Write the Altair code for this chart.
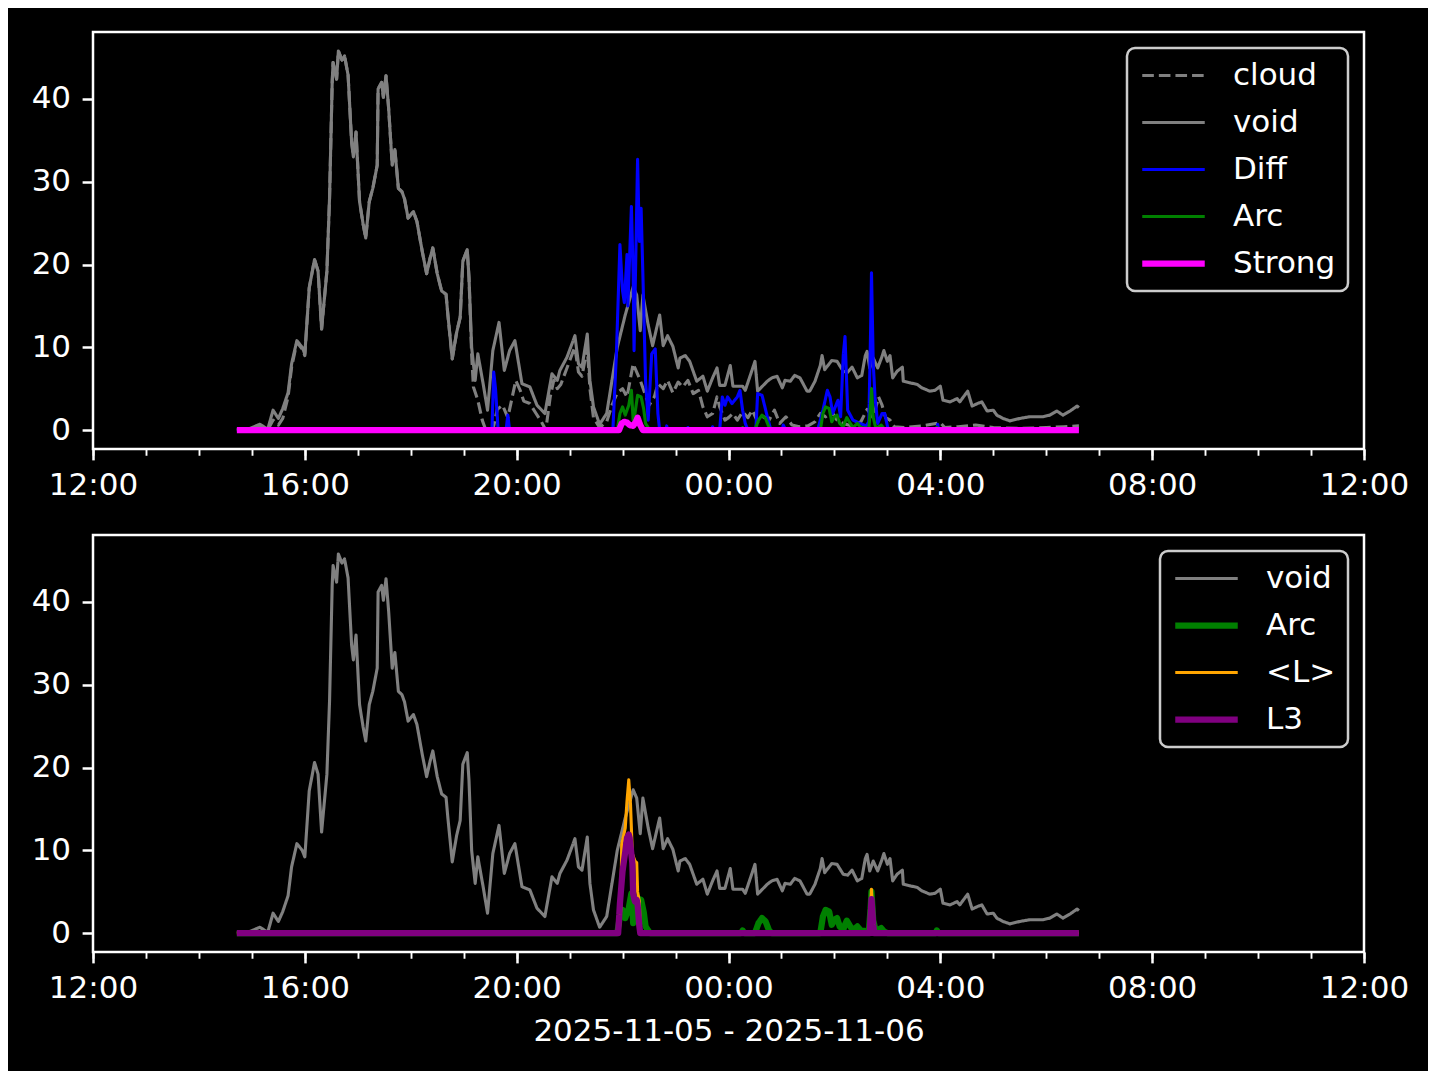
import altair as alt
import pandas as pd

# ---------------- data (clock times, 2025-11-05 12:00 -> 2025-11-06 12:00) ----------------
VOID_T = ["14:43", "14:58", "15:09", "15:18", "15:24", "15:30", "15:35", "15:41", "15:45", "15:51",
          "15:57", "16:00", "16:05", "16:11", "16:15", "16:19", "16:25", "16:28", "16:31", "16:32",
          "16:36", "16:38", "16:42", "16:45", "16:49", "16:53", "16:55", "16:58", "17:02", "17:06",
          "17:09", "17:13", "17:17", "17:22", "17:23", "17:27", "17:29", "17:32", "17:35", "17:39",
          "17:42", "17:46", "17:50", "17:53", "17:57", "18:03", "18:07", "18:13", "18:18", "18:22",
          "18:25", "18:30", "18:35", "18:40", "18:42", "18:47", "18:52", "18:56", "18:59", "19:04",
          "19:06", "19:09", "19:13", "19:16", "19:22", "19:27", "19:33", "19:40", "19:46", "19:52",
          "19:58", "20:06", "20:15", "20:23", "20:32", "20:40", "20:46", "20:49", "20:57", "21:04",
          "21:06", "21:10", "21:14", "21:20", "21:23", "21:27", "21:34", "21:42", "21:48", "21:54",
          "22:03", "22:12", "22:16", "22:20", "22:23", "22:29", "22:34", "22:42", "22:46", "22:51",
          "22:57", "23:03", "23:05", "23:11", "23:16", "23:24", "23:31", "23:36", "23:42", "23:47",
          "23:50", "23:56", "00:02", "00:05", "00:16", "00:19", "00:30", "00:33", "00:44", "00:49",
          "00:55", "01:01", "01:04", "01:10", "01:15", "01:21", "01:29", "01:32", "01:38", "01:44",
          "01:46", "01:49", "01:57", "02:03", "02:10", "02:15", "02:20", "02:26", "02:31", "02:35",
          "02:37", "02:40", "02:44", "02:49", "02:54", "02:56", "03:00", "03:03", "03:06", "03:11",
          "03:17", "03:18", "03:26", "03:34", "03:39", "03:48", "03:54", "04:00", "04:03", "04:11",
          "04:19", "04:22", "04:31", "04:36", "04:42", "04:47", "04:53", "05:00", "05:04", "05:11",
          "05:19", "05:30", "05:41", "05:56", "06:04", "06:12", "06:19", "06:27", "06:35", "06:37"]
VOID_V = [0.0, 0.2, 0.7, 0.1, 2.4, 1.4, 2.6, 4.5, 8.0, 10.8,
          10.0, 9.2, 17.2, 20.6, 19.2, 12.2, 19.2, 28.0, 42.0, 44.4,
          42.4, 45.8, 44.7, 45.2, 42.9, 34.8, 33.0, 36.0, 27.6, 24.9,
          23.2, 27.6, 29.2, 32.0, 41.2, 42.0, 40.2, 42.8, 38.8, 32.0,
          33.9, 29.2, 28.8, 27.9, 25.6, 26.4, 25.2, 21.6, 18.9, 20.8,
          22.0, 18.9, 16.8, 16.4, 14.0, 8.6, 11.8, 13.6, 20.4, 21.8,
          18.4, 10.0, 6.0, 9.2, 5.6, 2.4, 9.6, 13.0, 7.2, 9.6,
          10.8, 5.6, 5.2, 3.0, 2.0, 6.8, 6.0, 7.2, 8.8, 10.8,
          11.4, 8.0, 7.6, 11.6, 6.0, 2.8, 0.7, 2.0, 6.0, 10.0,
          13.9, 17.3, 16.3, 12.0, 16.3, 12.7, 10.2, 13.9, 10.2, 11.4,
          10.1, 7.5, 8.7, 9.0, 8.3, 5.9, 6.5, 4.7, 6.3, 7.5,
          5.4, 5.4, 7.8, 5.3, 5.3, 4.8, 8.3, 4.7, 5.9, 6.3,
          6.5, 5.1, 6.0, 5.9, 6.6, 6.3, 4.7, 4.7, 5.9, 7.8,
          9.0, 7.3, 8.4, 8.3, 7.1, 7.0, 7.6, 6.3, 6.6, 9.0,
          9.5, 7.5, 8.7, 7.5, 8.9, 9.6, 8.3, 9.0, 6.3, 7.1,
          7.6, 5.9, 5.7, 5.5, 5.1, 4.7, 4.8, 5.3, 3.6, 3.4,
          3.8, 3.4, 4.7, 2.9, 3.2, 3.4, 2.3, 2.4, 1.8, 1.4,
          1.1, 1.4, 1.6, 1.6, 1.8, 2.3, 1.8, 2.3, 2.9, 2.7]

CLOUD_T = ["14:43", "14:58", "15:09", "15:18", "15:24", "15:30", "15:35", "15:41", "15:45", "15:51",
           "15:57", "16:00", "16:05", "16:11", "16:15", "16:19", "16:25", "16:28", "16:31", "16:32",
           "16:36", "16:38", "16:42", "16:45", "16:49", "16:53", "16:55", "16:58", "17:02", "17:06",
           "17:09", "17:13", "17:17", "17:22", "17:23", "17:27", "17:29", "17:32", "17:35", "17:39",
           "17:42", "17:46", "17:50", "17:53", "17:57", "18:03", "18:07", "18:13", "18:18", "18:22",
           "18:25", "18:30", "18:35", "18:40", "18:42", "18:47", "18:52", "18:56", "18:59", "19:04",
           "19:06", "19:09", "19:11", "19:16", "19:21", "19:25", "19:33", "19:38", "19:44", "19:50",
           "19:55", "19:59", "20:04", "20:08", "20:15", "20:22", "20:28", "20:33", "20:38", "20:42",
           "20:46", "20:50", "20:57", "21:04", "21:06", "21:10", "21:14", "21:20", "21:23", "21:27",
           "21:34", "21:42", "21:48", "21:54", "22:00", "22:05", "22:12", "22:20", "22:30", "22:36",
           "22:40", "22:46", "22:51", "22:57", "23:03", "23:08", "23:14", "23:20", "23:26", "23:31",
           "23:36", "23:42", "23:47", "23:50", "23:56", "00:00", "00:05", "00:10", "00:16", "00:22",
           "00:27", "00:33", "00:40", "00:46", "00:52", "00:58", "01:05", "01:12", "01:20", "01:30",
           "01:38", "01:44", "01:50", "01:57", "02:03", "02:10", "02:20", "02:30", "02:37", "02:44",
           "02:50", "02:54", "02:58", "03:03", "03:08", "03:20", "03:40", "04:00", "04:05", "04:20",
           "04:40", "05:00", "05:30", "06:00", "06:20", "06:37"]
CLOUD_V = [0.0, 0.1, 0.4, 0.0, 1.2, 0.6, 1.4, 4.0, 7.6, 10.6,
           9.8, 9.0, 17.2, 20.6, 19.2, 12.2, 19.2, 28.0, 42.0, 44.4,
           42.4, 45.8, 44.7, 45.2, 42.9, 34.8, 33.0, 36.0, 27.6, 24.9,
           23.2, 27.6, 29.2, 32.0, 41.2, 42.0, 40.2, 42.8, 38.8, 32.0,
           33.9, 29.2, 28.8, 27.9, 25.6, 26.4, 25.2, 21.6, 18.9, 20.8,
           22.0, 18.9, 16.8, 16.4, 14.0, 8.6, 11.8, 13.6, 20.4, 21.8,
           18.4, 9.0, 5.2, 3.6, 1.2, 0.0, 0.0, 2.5, 3.0, 1.5,
           4.0, 6.0, 4.8, 3.5, 3.2, 2.0, 1.0, 0.0, 4.0, 6.0,
           5.0, 5.5, 7.5, 9.5, 10.0, 7.0, 6.5, 10.0, 5.0, 1.5,
           0.3, 1.0, 3.0, 4.5, 5.0, 4.0, 8.0, 6.0, 3.0, 4.0,
           5.6, 5.0, 6.0, 4.5, 5.8, 5.2, 6.0, 4.4, 4.8, 2.8,
           1.6, 2.0, 4.0, 2.8, 1.2, 1.5, 2.0, 1.2, 2.2, 1.5,
           2.4, 1.0, 1.6, 1.2, 2.4, 0.8, 1.6, 0.6, 0.4, 0.5,
           1.0, 2.0, 1.6, 2.2, 1.2, 0.8, 0.5, 1.0, 2.5, 1.5,
           4.0, 3.0, 1.5, 1.2, 0.4, 0.3, 0.5, 0.9, 0.3, 0.4,
           0.6, 0.3, 0.2, 0.3, 0.4, 0.5]

DIFF_T = ["14:43", "19:32", "19:34", "19:36", "19:39", "19:48", "19:50", "19:52", "21:49", "21:53",
          "21:57", "22:00", "22:02", "22:05", "22:06", "22:10", "22:12", "22:13", "22:17", "22:19",
          "22:21", "22:23", "22:26", "22:29", "22:33", "22:37", "22:40", "22:42", "22:49", "22:50",
          "22:51", "23:13", "23:14", "23:15", "23:41", "23:42", "23:43", "23:50", "23:53", "23:56",
          "23:59", "00:04", "00:10", "00:13", "00:16", "00:19", "00:22", "00:31", "00:33", "00:38",
          "00:44", "00:48", "01:01", "01:02", "01:05", "01:41", "01:47", "01:52", "01:55", "01:58",
          "02:04", "02:07", "02:10", "02:12", "02:15", "02:21", "02:29", "02:36", "02:39", "02:41",
          "02:42", "02:44", "02:46", "02:49", "02:54", "02:57", "03:01", "03:56", "03:57", "03:58",
          "06:37"]
DIFF_V = [0.0, 0.0, 7.0, 5.0, 0.0, 0.0, 1.8, 0.0, 0.0, 9.2,
          22.4, 16.8, 15.4, 21.2, 15.0, 27.0, 18.8, 9.6, 32.7, 22.8,
          26.8, 18.8, 6.0, 1.2, 9.2, 9.8, 2.0, 0.0, 0.0, 0.5,
          0.0, 0.0, 0.3, 0.0, 0.0, 0.4, 0.0, 0.0, 4.0, 3.0,
          4.0, 3.2, 4.0, 4.8, 2.4, 0.8, 0.0, 0.0, 4.4, 4.2,
          1.6, 0.0, 0.0, 0.6, 0.0, 0.0, 2.4, 4.8, 4.0, 2.0,
          3.6, 1.6, 9.0, 11.3, 2.4, 1.2, 0.8, 0.5, 1.0, 12.0,
          19.0, 8.0, 4.0, 0.8, 2.0, 2.0, 0.0, 0.0, 0.7, 0.0,
          0.0]

ARC_T = ["14:43", "21:54", "21:57", "22:00", "22:03", "22:07", "22:10", "22:12", "22:14", "22:17",
         "22:21", "22:24", "22:26", "22:29", "22:31", "00:14", "00:16", "00:18", "00:30", "00:34",
         "00:38", "00:42", "00:46", "00:49", "01:44", "01:47", "01:50", "01:54", "01:57", "02:00",
         "02:03", "02:06", "02:10", "02:12", "02:14", "02:18", "02:21", "02:26", "02:30", "02:39",
         "02:41", "02:42", "02:44", "02:47", "02:53", "02:56", "03:00", "03:55", "03:56", "03:58",
         "06:37"]
ARC_V = [0.0, 0.0, 2.0, 2.8, 1.8, 3.0, 4.8, 1.2, 2.0, 4.2,
         4.0, 2.5, 0.8, 0.3, 0.0, 0.0, 0.3, 0.0, 0.0, 1.2,
         1.8, 1.4, 0.3, 0.0, 0.0, 2.0, 2.8, 2.6, 1.0, 1.6,
         1.8, 0.8, 0.4, 1.0, 1.5, 0.8, 0.3, 0.8, 0.3, 0.2,
         3.0, 5.0, 1.5, 0.2, 0.6, 0.2, 0.0, 0.0, 0.3, 0.0,
         0.0]

STRONG_T = ["14:43", "21:56", "21:59", "22:02", "22:05", "22:08", "22:12", "22:15", "22:17", "22:20",
            "22:23", "06:37"]
STRONG_V = [0.0, 0.0, 0.8, 1.0, 0.9, 0.6, 0.5, 1.0, 1.5, 0.6,
            0.0, 0.0]

L_T = ["14:43", "21:56", "21:58", "21:59", "22:03", "22:05", "22:07", "22:09", "22:11", "22:14",
       "22:16", "22:17", "22:19", "22:20", "22:22", "02:39", "02:41", "02:42", "02:44", "02:46",
       "06:37"]
L_V = [0.0, 0.0, 3.0, 10.7, 12.7, 15.9, 18.5, 15.5, 9.6, 8.7,
       8.5, 5.0, 3.8, 0.5, 0.0, 0.0, 3.0, 5.3, 1.0, 0.0,
       0.0]

L3_T = ["14:43", "21:55", "21:57", "22:00", "22:03", "22:05", "22:07", "22:08", "22:11", "22:12",
        "22:14", "22:16", "22:17", "22:19", "22:20", "02:40", "02:41", "02:42", "02:44", "02:45",
        "06:37"]
L3_V = [0.0, 0.0, 3.6, 7.5, 9.8, 11.5, 11.9, 11.5, 8.5, 4.7,
        3.8, 4.0, 3.5, 0.8, 0.0, 0.0, 2.0, 4.1, 1.0, 0.0,
        0.0]

TOP_NAMES = ["cloud", "void", "Diff", "Arc", "Strong"]
TOP_COLORS = ["#808080", "#808080", "#0000ff", "#008000", "#ff00ff"]
TOP_WIDTHS = [3.1, 3.1, 3.1, 3.1, 6.25]
TOP_DASHES = [[11.6, 5.0], [1, 0], [1, 0], [1, 0], [1, 0]]

BOT_NAMES = ["void", "Arc", "<L>", "L3"]
BOT_COLORS = ["#808080", "#008000", "#ffa500", "#800080"]
BOT_WIDTHS = [3.1, 6.25, 3.1, 6.25]
BOT_DASHES = [[1, 0], [1, 0], [1, 0], [1, 0]]

X_TITLE = "2025-11-05 - 2025-11-06"
FONT = "DejaVu Sans"


def to_dt(hhmm):
    h, m = (int(p) for p in hhmm.split(":"))
    day = 5 if h >= 12 else 6
    return pd.Timestamp(2025, 11, day, h, m)


def frame(series):
    rows = []
    for name, ts, vs in series:
        for t, v in zip(ts, vs):
            rows.append({"series": name, "time": to_dt(t), "value": v})
    return pd.DataFrame(rows)


top_df = frame([("cloud", CLOUD_T, CLOUD_V), ("void", VOID_T, VOID_V), ("Diff", DIFF_T, DIFF_V),
                ("Arc", ARC_T, ARC_V), ("Strong", STRONG_T, STRONG_V)])
bot_df = frame([("void", VOID_T, VOID_V), ("Arc", ARC_T, ARC_V), ("<L>", L_T, L_V), ("L3", L3_T, L3_V)])


def dt(day, hour):
    return alt.DateTime(year=2025, month=11, date=day, hours=hour, minutes=0)


X_DOMAIN = [dt(5, 12), dt(6, 12)]
MAJOR = [dt(5, 12), dt(5, 16), dt(5, 20), dt(6, 0), dt(6, 4), dt(6, 8), dt(6, 12)]
MINOR = [dt(5, h) for h in range(12, 24)] + [dt(6, h) for h in range(0, 13)]
Y_DOMAIN = [-2.29, 48.09]


def panel(df, names, colors, widths, dashes, title):
    legend = alt.Legend(title=None, orient="top-right", offset=16, symbolType="stroke",
                        symbolSize=3906, labelFontSize=31, labelFont=FONT, labelColor="white",
                        labelOffset=25, padding=12, rowPadding=15, clipHeight=31,
                        strokeColor="#cccccc", fillColor="black", cornerRadius=8, labelLimit=400)
    color = alt.Color("series:N", scale=alt.Scale(domain=names, range=colors), legend=legend)
    sdash = alt.StrokeDash("series:N", scale=alt.Scale(domain=names, range=dashes), legend=legend)
    swidth = alt.StrokeWidth("series:N", scale=alt.Scale(type="ordinal", domain=names, range=widths),
                             legend=legend)
    xscale = alt.Scale(domain=X_DOMAIN, nice=False)
    yscale = alt.Scale(domain=Y_DOMAIN, nice=False, zero=False)
    yaxis = alt.Axis(values=[0, 10, 20, 30, 40], tickSize=10.9, tickWidth=2.5,
                     labelPadding=11.5, title=None)
    layers = []
    for i, name in enumerate(names):
        if i == 0:
            xaxis = alt.Axis(values=MAJOR, format="%H:%M", orient="bottom", tickSize=10.9,
                             tickWidth=2.5, labelPadding=10.9, labelFlush=False,
                             labelOverlap=False, title=title if title else None,
                             titlePadding=13)
        elif i == 1:
            xaxis = alt.Axis(values=MINOR, labels=False, orient="bottom", tickSize=6.25,
                             tickWidth=1.9, title=None)
        else:
            xaxis = None
        layer = alt.Chart(df).transform_filter(alt.datum.series == name).mark_line(
            strokeJoin="round", strokeCap="butt"
        ).encode(
            x=alt.X("time:T", scale=xscale, axis=xaxis),
            y=alt.Y("value:Q", scale=yscale, axis=yaxis),
            color=color,
            strokeDash=sdash,
            strokeWidth=swidth,
            order=alt.Order("time:T"),
        )
        layers.append(layer)
    return alt.layer(*layers).resolve_axis(x="independent").properties(width=1271, height=417)


top = panel(top_df, TOP_NAMES, TOP_COLORS, TOP_WIDTHS, TOP_DASHES, None)
bottom = panel(bot_df, BOT_NAMES, BOT_COLORS, BOT_WIDTHS, BOT_DASHES, X_TITLE)

chart = alt.vconcat(top, bottom, spacing=86, bounds="flush").resolve_scale(
    color="independent", strokeDash="independent", strokeWidth="independent"
).properties(
    background="black",
    padding={"left": 21, "top": 22, "right": 18, "bottom": 22},
).configure_view(
    stroke="white", strokeWidth=2.5, fill="black"
).configure_axis(
    labelColor="white", tickColor="white", titleColor="white", labelFont=FONT,
    titleFont=FONT, labelFontSize=31, titleFontSize=31, titleFontWeight="normal",
    domain=False, grid=False
).configure_legend(
    strokeWidth=2.5
)

chart.save("out.html", embed_options={"renderer": "svg", "actions": False})
